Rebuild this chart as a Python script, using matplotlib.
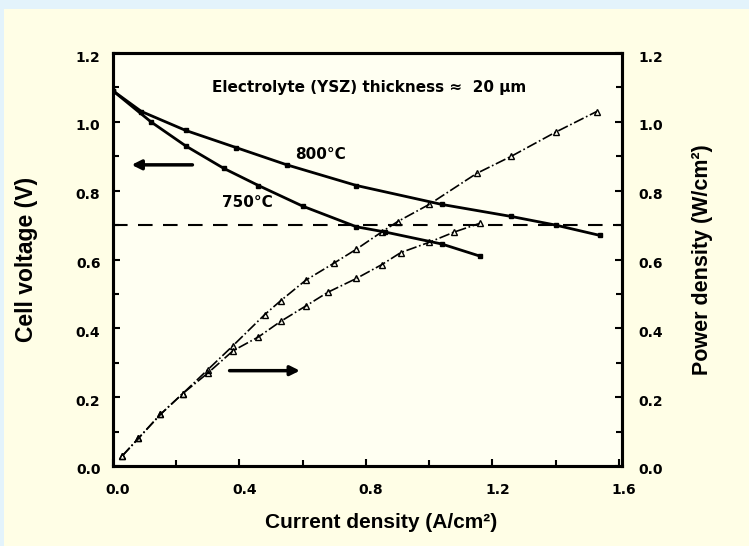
import matplotlib
matplotlib.use('Agg')
import matplotlib.pyplot as plt
from matplotlib.patches import Rectangle
from matplotlib.ticker import MultipleLocator
from matplotlib.transforms import ScaledTranslation

plt.rcParams['font.family'] = ['DejaVu Sans']
plt.rcParams['font.weight'] = 'bold'

# I-V data
current_800 = [0.0, 0.09, 0.23, 0.39, 0.55, 0.77, 1.04, 1.26, 1.40, 1.54]
voltage_800 = [1.09, 1.03, 0.975, 0.925, 0.875, 0.815, 0.76, 0.725, 0.70, 0.67]
current_750 = [0.0, 0.12, 0.23, 0.35, 0.46, 0.60, 0.77, 0.86, 1.04, 1.16]
voltage_750 = [1.09, 1.0, 0.93, 0.865, 0.815, 0.755, 0.695, 0.68, 0.645, 0.61]

# power density data
p_current_800 = [0.03, 0.08, 0.15, 0.22, 0.30, 0.38, 0.48, 0.53, 0.61, 0.70,
                 0.77, 0.85, 0.90, 1.0, 1.15, 1.26, 1.40, 1.53]
power_800 = [0.03, 0.08, 0.15, 0.21, 0.28, 0.35, 0.44, 0.48, 0.54, 0.59,
             0.63, 0.68, 0.71, 0.76, 0.85, 0.90, 0.97, 1.03]
p_current_750 = [0.03, 0.08, 0.15, 0.22, 0.30, 0.38, 0.46, 0.53, 0.61, 0.68,
                 0.77, 0.85, 0.91, 1.0, 1.08, 1.16]
power_750 = [0.03, 0.08, 0.15, 0.21, 0.27, 0.335, 0.375, 0.42, 0.465, 0.505,
             0.545, 0.585, 0.62, 0.65, 0.68, 0.705]

ref_voltage = 0.7
x_ticks = [0.0, 0.4, 0.8, 1.2, 1.6]
y_ticks = [0.0, 0.2, 0.4, 0.6, 0.8, 1.0, 1.2]

label_font = ['Liberation Sans', 'DejaVu Sans']

fig = plt.figure(figsize=(7.49, 5.46), dpi=100, facecolor='#e3f3fb')
fig.patches.append(Rectangle((4 / 749, 0), 1, 1 - 9 / 546, transform=fig.transFigure,
                             facecolor='#fffee6', edgecolor='none', zorder=-10))

ax = fig.add_axes([113 / 749, 80 / 546, 509 / 749, 413 / 546])
ax.set_facecolor('#fffff2')
ax2 = ax.twinx()

# voltage curves
ax.plot(current_800, voltage_800, color='black', lw=2, marker='s', ms=3)
ax.plot(current_750, voltage_750, color='black', lw=2, marker='s', ms=3)
ax.axhline(ref_voltage, color='black', lw=1.5, ls=(0, (7, 5)))

# power curves
ax2.plot(p_current_800, power_800, color='black', lw=1.2, ls='-.',
         marker='^', ms=4, mfc='none', mew=1)
ax2.plot(p_current_750, power_750, color='black', lw=1.2, ls='-.',
         marker='^', ms=4, mfc='none', mew=1)

# arrows pointing to the matching axis
ax.annotate('', xy=(0.05, 0.875), xytext=(0.26, 0.875),
            arrowprops=dict(arrowstyle='-|>', lw=2.5, color='black', mutation_scale=14))
ax.annotate('', xy=(0.60, 0.277), xytext=(0.36, 0.277),
            arrowprops=dict(arrowstyle='-|>', lw=2.5, color='black', mutation_scale=14))

ax.text(0.81, 1.10, 'Electrolyte (YSZ) thickness \u2248  20 \u03bcm', fontsize=11,
        fontweight='bold', ha='center', va='center')
ax.text(0.657, 0.905, '800\u00b0C', fontsize=11, fontweight='bold', ha='center', va='center')
ax.text(0.425, 0.765, '750\u00b0C', fontsize=11, fontweight='bold', ha='center', va='center')

for a in (ax, ax2):
    a.set_xlim(0, 1.61)
    a.set_ylim(0, 1.2)
    a.set_yticks(y_ticks)
    a.yaxis.set_minor_locator(MultipleLocator(0.1))
    for s in a.spines.values():
        s.set_linewidth(2.2)

ax.set_xticks(x_ticks)
ax.xaxis.set_minor_locator(MultipleLocator(0.2))
ax.tick_params(axis='both', which='both', direction='in', width=1.5, labelsize=10)
ax.tick_params(which='major', length=5)
ax.tick_params(which='minor', length=4)
ax.tick_params(axis='y', pad=9)
ax.tick_params(axis='x', pad=12)
ax2.tick_params(axis='y', which='both', direction='in', width=1.5, labelsize=10, pad=12)
ax2.tick_params(which='major', length=5)
ax2.tick_params(which='minor', length=4)
ax.set_yticklabels([f'{v:.1f}' for v in y_ticks])
ax2.set_yticklabels([f'{v:.1f}' for v in y_ticks])
ax.set_xticklabels([f'{v:.1f}' for v in x_ticks])

# the tick labels sit a little right / below their ticks in the original
x_shift = ScaledTranslation(5 / 100, 0, fig.dpi_scale_trans)
y_shift = ScaledTranslation(0, -3 / 100, fig.dpi_scale_trans)
for lbl in ax.get_xticklabels():
    lbl.set_transform(lbl.get_transform() + x_shift)
for lbl in ax.get_yticklabels() + ax2.get_yticklabels():
    lbl.set_transform(lbl.get_transform() + y_shift)

ax.set_xlabel('Current density (A/cm\u00b2)', fontsize=15, fontweight='bold', family=label_font)
ax.set_ylabel('Cell voltage (V)', fontsize=16.5, fontweight='bold', family=label_font)
ax2.set_ylabel('Power density (W/cm\u00b2)', fontsize=15.5, fontweight='bold', family=label_font)
ax.xaxis.set_label_coords(0.526, -0.114)
ax.yaxis.set_label_coords(-0.147, 0.5)
ax2.yaxis.set_label_coords(1.1375, 0.5)

fig.savefig('out.png', dpi=100, facecolor=fig.get_facecolor())
